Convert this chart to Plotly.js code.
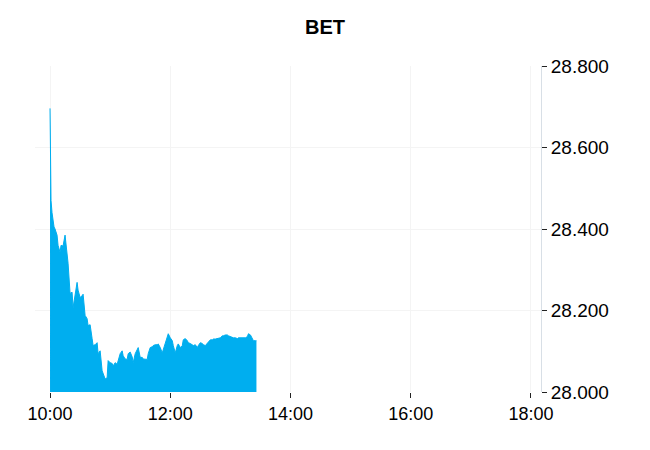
<!DOCTYPE html>
<html>
<head>
<meta charset="utf-8">
<script src="https://cdn.plot.ly/plotly-3.0.1.min.js"></script>
<style>html,body{margin:0;padding:0;background:#fff;}#chart{width:650px;height:450px;}</style>
</head>
<body>
<div id="chart"></div>
<script>
const day = "2024-01-15 ";
const times = ["10:00","10:01","10:02","10:03","10:04","10:05","10:06","10:07","10:08","10:10","10:11","10:13","10:15","10:17","10:18","10:20","10:22","10:23","10:25","10:27","10:28","10:30","10:32","10:33","10:35","10:37","10:38","10:40","10:42","10:43","10:45","10:47","10:48","10:50","10:52","10:53","10:55","10:57","10:58","11:00","11:02","11:03","11:05","11:07","11:08","11:10","11:12","11:13","11:15","11:17","11:18","11:20","11:22","11:23","11:25","11:27","11:28","11:30","11:32","11:33","11:35","11:37","11:38","11:40","11:42","11:43","11:45","11:47","11:48","11:50","11:52","11:53","11:55","11:57","11:58","12:00","12:02","12:03","12:05","12:07","12:08","12:10","12:12","12:13","12:15","12:17","12:18","12:20","12:22","12:23","12:25","12:27","12:28","12:30","12:32","12:33","12:35","12:37","12:38","12:40","12:42","12:43","12:45","12:47","12:48","12:50","12:52","12:53","12:55","12:57","12:58","13:00","13:02","13:03","13:05","13:07","13:08","13:10","13:12","13:13","13:15","13:17","13:18","13:20","13:22","13:23","13:25","13:26"];
const values = [28696,28470,28440,28420,28405,28400,28390,28385,28360,28343,28360,28358,28385,28348,28316,28242,28245,28207,28242,28269,28250,28232,28236,28240,28188,28180,28163,28165,28131,28114,28116,28121,28094,28101,28052,28044,28032,28035,28077,28072,28070,28064,28072,28068,28077,28094,28101,28089,28081,28080,28094,28098,28086,28072,28094,28106,28109,28085,28085,28081,28081,28080,28094,28109,28111,28114,28116,28116,28118,28109,28096,28104,28114,28133,28143,28133,28126,28114,28096,28114,28118,28109,28114,28128,28131,28126,28121,28119,28116,28114,28116,28109,28114,28121,28119,28116,28114,28119,28121,28128,28128,28130,28130,28131,28131,28133,28138,28138,28140,28140,28138,28136,28135,28133,28133,28131,28133,28133,28133,28133,28133,28136,28143,28140,28128,28126,28126,28126];
const xTickVals = ["10:00","12:00","14:00","16:00","18:00"];
const yTickVals = [28000,28200,28400,28600,28800];

const trace = {
  x: times.map(t => day + t),
  y: values,
  type: "scatter",
  mode: "lines",
  fill: "tozeroy",
  line: {color: "#00aeef", width: 1},
  fillcolor: "#00aeef",
  hoverinfo: "x+y"
};

const layout = {
  width: 650, height: 450,
  margin: {l: 35, r: 109, t: 66, b: 58},
  paper_bgcolor: "#fff", plot_bgcolor: "#fff",
  separators: ",.",
  font: {family: "Liberation Sans, Arial, sans-serif", size: 18, color: "#000"},
  title: {text: "<b>BET</b>", x: 0.5, xref: "container", xanchor: "center", y: 0.94, yref: "container", yanchor: "middle", font: {size: 20, color: "#000"}},
  showlegend: false,
  xaxis: {
    type: "date",
    range: [day + "09:45", day + "18:10"],
    tickvals: xTickVals.map(t => day + t),
    ticktext: xTickVals,
    ticks: "outside", ticklen: 5, tickcolor: "#222", tickwidth: 1,
    showgrid: true, gridcolor: "#f4f4f4", gridwidth: 1,
    showline: false, zeroline: false,
    tickfont: {size: 18, color: "#000"}
  },
  yaxis: {
    side: "right",
    range: [28000, 28800],
    tickvals: yTickVals,
    tickformat: ",d",
    ticks: "outside", ticklen: 5, tickcolor: "#222", tickwidth: 1,
    showgrid: true, gridcolor: "#f4f4f4", gridwidth: 1,
    showline: true, linecolor: "#d8dfe6", linewidth: 1,
    zeroline: false,
    tickfont: {size: 19, color: "#000"}
  }
};

Plotly.newPlot("chart", [trace], layout, {displayModeBar: false, staticPlot: true});
</script>
</body>
</html>
